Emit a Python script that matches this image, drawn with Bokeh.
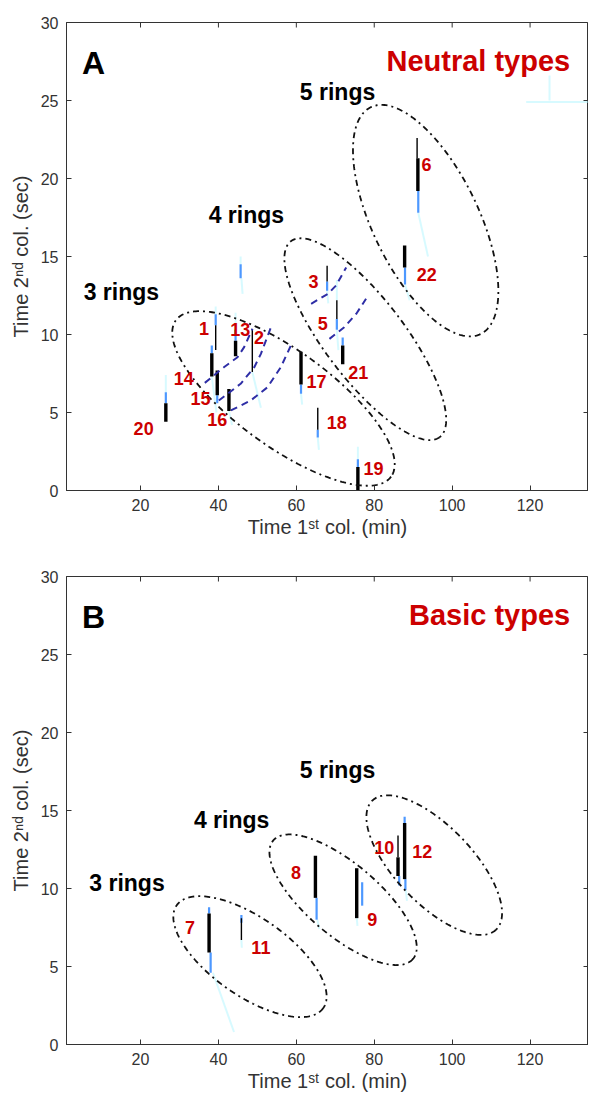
import numpy as np
from bokeh.plotting import figure
from bokeh.models import Range1d, FixedTicker, ColumnDataSource
from bokeh.layouts import column
from bokeh.embed import file_html
from bokeh.resources import INLINE
from bokeh.core.properties import value

# ---------------- data ----------------
x_ticks = [20, 40, 60, 80, 100, 120]
y_ticks = [0, 5, 10, 15, 20, 25, 30]
x_lim = (1, 135)
y_lim = (0, 30)
x_title = "Time 1\u02e2\u1d57 col. (min)"
y_title = "Time 2\u207f\u1d48 col. (sec)"

# Panel A (neutral types): peak cores (1st col time, 2nd col top/bottom, strength 1=weak 2=strong)
A_core_x   = [39.3, 48.7, 67.9, 70.4, 91.0, 91.2, 44.4, 38.3, 39.7, 42.7, 61.2, 65.5, 75.8, 26.5, 71.9, 87.8]
A_core_top = [10.6, 10.3, 14.4, 12.2, 22.6, 21.3, 9.6, 8.8, 7.7, 6.5, 8.9, 5.3, 1.5, 5.6, 9.3, 15.7]
A_core_bot = [9.0, 7.6, 13.4, 11.0, 21.3, 19.2, 8.6, 7.3, 6.1, 5.1, 6.8, 3.9, 0.0, 4.4, 8.1, 14.3]
A_core_str = [1, 1, 1, 1, 1, 2, 2, 2, 2, 2, 2, 1, 2, 2, 2, 2]
# blue shoulders
A_blue_x   = [39.3, 44.4, 38.3, 39.7, 26.5, 70.4, 91.3, 87.9, 61.2, 71.9, 45.7, 75.8, 67.9, 65.5]
A_blue_top = [11.3, 10.3, 9.3, 6.1, 6.3, 11.0, 19.2, 14.3, 6.8, 9.8, 14.5, 2.0, 13.4, 3.9]
A_blue_bot = [10.6, 9.6, 8.8, 5.6, 5.6, 10.3, 17.8, 13.2, 6.2, 9.3, 13.6, 1.5, 12.8, 3.4]
# faint cyan tails
A_cyan_x0 = [39.3, 44.4, 38.3, 48.7, 26.5, 70.4, 70.4, 91.3, 87.9, 67.9, 45.7, 45.9, 42.7, 61.2, 65.5, 75.8, 125.0, 119.0]
A_cyan_y0 = [11.8, 11.4, 7.3, 7.6, 7.4, 13.5, 10.3, 17.8, 13.2, 12.8, 15.0, 13.6, 5.1, 6.2, 3.4, 2.0, 26.6, 24.9]
A_cyan_x1 = [39.3, 44.4, 39.5, 50.9, 26.5, 70.4, 70.8, 93.8, 89.1, 68.2, 45.7, 46.2, 43.5, 61.5, 65.8, 75.8, 125.0, 135.0]
A_cyan_y1 = [11.3, 10.3, 5.0, 5.3, 6.3, 12.2, 9.0, 15.0, 12.2, 12.0, 14.5, 12.6, 4.2, 5.5, 2.6, 2.8, 25.0, 24.9]

A_labels = ["1", "2", "3", "5", "6", "13", "14", "15", "16", "17", "18", "19", "20", "21", "22"]
A_lab_x  = [36.3, 50.4, 64.4, 66.8, 93.4, 45.6, 31.1, 35.4, 39.7, 65.2, 70.4, 79.8, 20.8, 75.9, 93.5]
A_lab_y  = [10.37, 9.83, 13.4, 10.68, 20.9, 10.3, 7.16, 5.88, 4.55, 7.0, 4.38, 1.39, 3.95, 7.58, 13.85]

A_rings   = ["3 rings", "4 rings", "5 rings"]
A_rings_x = [5.4, 37.5, 60.9]
A_rings_y = [12.75, 17.65, 25.55]

# ellipses: centre x, centre y, semi-major (px), semi-minor (px), tilt (deg)
A_ell_cx = [56.7, 77.7, 93.2]
A_ell_cy = [5.9, 9.7, 17.3]
A_ell_a  = [133, 123, 126]
A_ell_b  = [48, 40, 53]
A_ell_t  = [36, 52.8, 64.2]

# blue dashed iso-lines in panel A
A_dash_x = [[36.5, 41.4, 44.9, 46.6, 48.75],
            [40.1, 45.7, 49.2, 50.9, 53.5],
            [43.2, 48.3, 52.6, 56.0, 58.6],
            [63.8, 68.1, 70.2, 72.8],
            [68.5, 72.3, 75.4, 77.9]]
A_dash_y = [[6.9, 7.9, 8.54, 9.19, 10.37],
            [5.77, 6.84, 7.9, 8.76, 10.47],
            [5.13, 5.77, 6.62, 7.9, 9.29],
            [11.97, 12.6, 13.14, 14.3],
            [9.72, 10.47, 11.33, 12.29]]

# Panel B (basic types)
B_core_x   = [37.6, 45.9, 64.9, 75.5, 86.1, 86.1, 87.8]
B_core_top = [8.4, 8.1, 12.1, 11.3, 13.4, 12.0, 14.2]
B_core_bot = [5.9, 6.7, 9.4, 8.1, 12.0, 10.8, 10.6]
B_core_str = [2, 1, 2, 2, 1, 2, 2]
B_blue_x   = [38.0, 65.2, 76.9, 45.9, 88.0, 87.8, 86.4, 37.6]
B_blue_top = [5.9, 9.4, 10.4, 8.3, 10.6, 14.6, 10.8, 8.8]
B_blue_bot = [4.6, 8.0, 8.9, 7.8, 9.9, 14.2, 10.2, 8.4]
B_cyan_x0 = [38.6, 65.4, 75.5, 88.1, 45.9]
B_cyan_y0 = [4.6, 8.0, 8.1, 9.9, 6.7]
B_cyan_x1 = [44.0, 65.9, 75.7, 88.4, 46.0]
B_cyan_y1 = [0.8, 7.4, 7.6, 9.2, 6.2]

B_labels = ["7", "8", "9", "10", "11", "12"]
B_lab_x  = [32.7, 59.9, 79.5, 82.6, 50.9, 92.3]
B_lab_y  = [7.5, 11.0, 8.0, 12.65, 6.2, 12.4]

B_rings   = ["3 rings", "4 rings", "5 rings"]
B_rings_x = [6.85, 33.7, 60.9]
B_rings_y = [10.35, 14.4, 17.6]

B_ell_cx = [48.1, 72.0, 95.4]
B_ell_cy = [5.63, 9.28, 11.5]
B_ell_a  = [89.5, 91.6, 89.4]
B_ell_b  = [39, 36, 38.5]
B_ell_t  = [35, 40.3, 46.2]

# ---------------- style ----------------
FONT = "Liberation Sans"
RED = "#cc0000"
AXC = "#333333"
FRAME_W, FRAME_H = 522, 468
KX = FRAME_W / (x_lim[1] - x_lim[0])
KY = FRAME_H / (y_lim[1] - y_lim[0])
STR_W = {1: 1.4, 2: 3.4}
TICK_PX = 5


def ellipse_xy(cx, cy, a, b, tdeg, n=240):
    t = np.linspace(0, 2 * np.pi, n)
    th = np.radians(tdeg)
    sx = a * np.cos(t) * np.cos(th) - b * np.sin(t) * np.sin(th)
    sy = a * np.cos(t) * np.sin(th) + b * np.sin(t) * np.cos(th)
    return cx + sx / KX, cy - sy / KY


def style_axis(ax, ticks, title):
    ax.ticker = FixedTicker(ticks=ticks)
    ax.major_tick_in = TICK_PX
    ax.major_tick_out = 0
    ax.minor_tick_line_color = None
    ax.axis_line_color = AXC
    ax.major_tick_line_color = AXC
    ax.major_label_text_font = FONT
    ax.major_label_text_color = AXC
    ax.major_label_text_font_size = "16px"
    ax.major_label_standoff = 8
    ax.axis_label = title
    ax.axis_label_text_font = FONT
    ax.axis_label_text_font_size = "20px"
    ax.axis_label_text_font_style = "normal"
    ax.axis_label_text_color = AXC


def make_panel(letter, title, core, blue, cyan, labels, rings, ells, dashes, top_b, bot_b):
    p = figure(frame_width=FRAME_W, frame_height=FRAME_H,
               x_range=Range1d(*x_lim), y_range=Range1d(*y_lim),
               output_backend="svg", toolbar_location=None,
               min_border_left=66, min_border_right=0,
               min_border_top=top_b, min_border_bottom=bot_b)
    p.outline_line_color = AXC
    p.outline_line_width = 1
    p.grid.visible = False
    style_axis(p.xaxis[0], x_ticks, x_title)
    style_axis(p.yaxis[0], y_ticks, y_title)
    p.xaxis[0].axis_label_standoff = 2
    p.yaxis[0].axis_label_standoff = 6

    # inward ticks on the top and right frame edges
    ty = y_lim[1] - TICK_PX / KY
    p.segment(x0=x_ticks, y0=[y_lim[1]] * len(x_ticks), x1=x_ticks, y1=[ty] * len(x_ticks),
              line_color=AXC, line_width=1)
    tx = x_lim[1] - TICK_PX / KX
    p.segment(x0=[x_lim[1]] * len(y_ticks), y0=y_ticks, x1=[tx] * len(y_ticks), y1=y_ticks,
              line_color=AXC, line_width=1)

    # faint cyan tails
    cx0, cy0, cx1, cy1 = cyan
    p.segment(x0=cx0, y0=cy0, x1=cx1, y1=cy1, line_color="#a6f3ff", line_width=2, line_alpha=0.45)
    # blue shoulders
    bx, bt, bb = blue
    p.segment(x0=bx, y0=bt, x1=bx, y1=bb, line_color="#3a8dff", line_width=2.2, line_alpha=0.9)
    # black cores
    kx, kt, kb, ks = core
    src = ColumnDataSource(dict(x=kx, top=kt, bot=kb, w=[STR_W[s] for s in ks]))
    p.segment(x0="x", y0="top", x1="x", y1="bot", line_width="w", line_color="black", source=src)

    # ellipses
    for cx, cy, a, b, t in zip(*ells):
        ex, ey = ellipse_xy(cx, cy, a, b, t)
        p.line(ex, ey, line_color="#111111", line_width=1.8, line_dash="6 4 2 4")

    # blue dashed lines
    if dashes is not None:
        for dx, dy in zip(*dashes):
            p.line(dx, dy, line_color="#2e2ea6", line_width=2, line_dash="7 5")

    # compound numbers
    lt, lx, ly = labels
    p.text(x=lx, y=ly, text=lt, text_font=value(FONT), text_font_style="bold",
           text_font_size="18px", text_color=RED, text_align="center", text_baseline="middle")

    rt, rx, ry = rings
    p.text(x=rx, y=ry, text=rt, text_font=value(FONT), text_font_style="bold",
           text_font_size="23px", text_color="black", text_align="left", text_baseline="alphabetic")

    p.text(x=[5.0], y=[27.4], text=[letter], text_font=value(FONT), text_font_style="bold",
           text_font_size="32px", text_color="black", text_align="left", text_baseline="alphabetic")
    p.text(x=[130.3], y=[27.55], text=[title], text_font=value(FONT), text_font_style="bold",
           text_font_size="29px", text_color=RED, text_align="right", text_baseline="alphabetic")
    return p


pA = make_panel("A", "Neutral types",
                (A_core_x, A_core_top, A_core_bot, A_core_str),
                (A_blue_x, A_blue_top, A_blue_bot),
                (A_cyan_x0, A_cyan_y0, A_cyan_x1, A_cyan_y1),
                (A_labels, A_lab_x, A_lab_y),
                (A_rings, A_rings_x, A_rings_y),
                (A_ell_cx, A_ell_cy, A_ell_a, A_ell_b, A_ell_t),
                (A_dash_x, A_dash_y), 22, 72)
pB = make_panel("B", "Basic types",
                (B_core_x, B_core_top, B_core_bot, B_core_str),
                (B_blue_x, B_blue_top, B_blue_bot),
                (B_cyan_x0, B_cyan_y0, B_cyan_x1, B_cyan_y1),
                (B_labels, B_lab_x, B_lab_y),
                (B_rings, B_rings_x, B_rings_y),
                (B_ell_cx, B_ell_cy, B_ell_a, B_ell_b, B_ell_t),
                None, 14, 45)

layout = column(pA, pB, spacing=0)
open("out.html", "w").write(file_html(layout, INLINE))
